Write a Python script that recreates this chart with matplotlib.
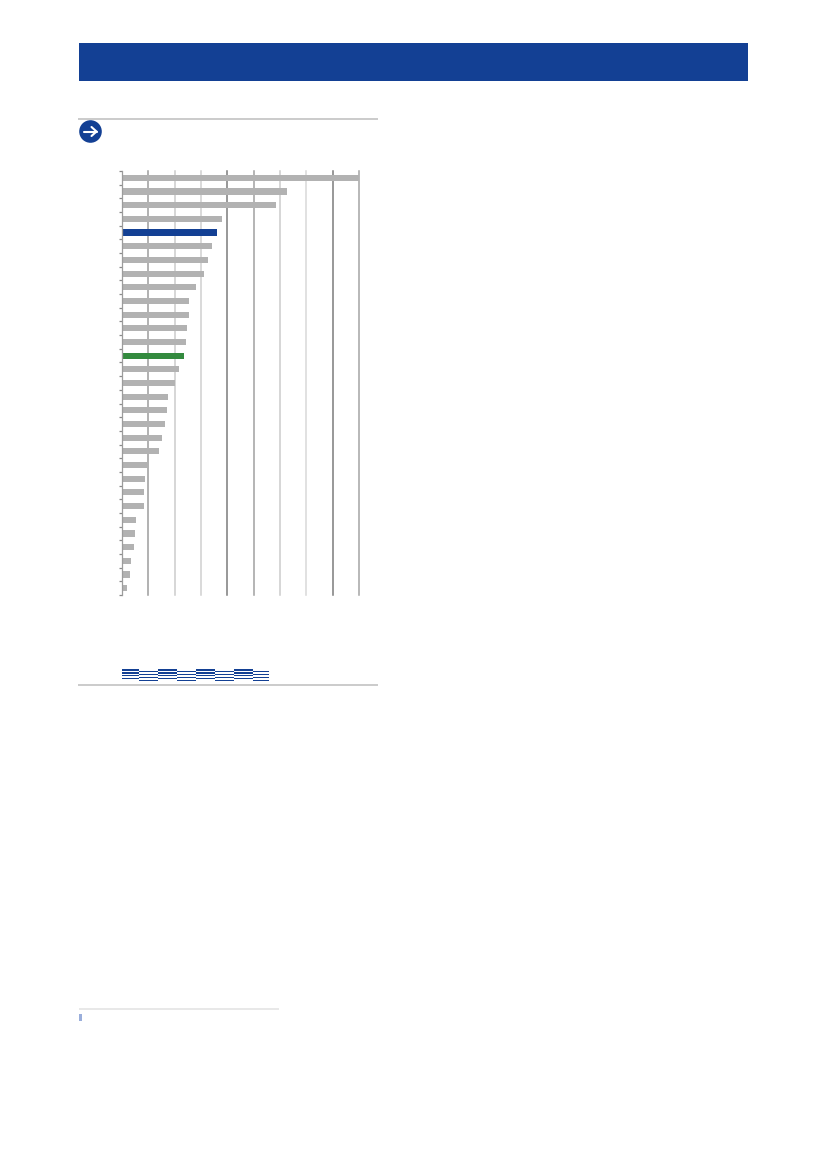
import matplotlib
matplotlib.use('Agg')
import matplotlib.pyplot as plt
from matplotlib.patches import Circle, Rectangle

# bar values, top to bottom (axis labels are blank in the source page)
values = [90, 62.7, 58.3, 37.9, 36.0, 34.1, 32.7, 31.1, 28.0, 25.3, 25.3,
          24.8, 24.4, 23.4, 21.5, 20.1, 17.6, 17, 16.4, 15.2, 14.2, 10, 8.9,
          8.4, 8.3, 5.3, 5, 4.4, 3.4, 3.2, 1.8]
highlight = {4: '#134094', 13: '#338a3e'}
grid_values = [10, 20, 30, 40, 50, 60, 70, 80, 90]
grid_colors = ['#9c9c9c', '#cbcbcb', '#d0d0d0', '#7c7c7c', '#a0a0a0',
               '#cbcbcb', '#d8d8d8', '#7c7c7c', '#a4a4a4']

W, H = 826, 1169
BLUE = '#134094'
GREY = '#b2b2b2'

fig = plt.figure(figsize=(W / 100, H / 100), dpi=100)

# page furniture, in pixel coords
page = fig.add_axes([0, 0, 1, 1])
page.set_xlim(0, W)
page.set_ylim(H, 0)
page.axis('off')
page.add_patch(Rectangle((79, 43), 669, 37.5, color=BLUE, lw=0))
page.plot([78, 378], [118.5, 118.5], color='#bdbdbd', lw=1.1, solid_capstyle='butt')
page.plot([78, 378], [684.5, 684.5], color='#bdbdbd', lw=1.1, solid_capstyle='butt')
page.plot([79, 279], [1008.5, 1008.5], color='#e2e2e2', lw=1.1, solid_capstyle='butt')
page.add_patch(Rectangle((79, 1014), 3, 7, color='#9aaedb', lw=0))
page.add_patch(Circle((90.5, 131.5), 11.3, color=BLUE, lw=0))
# arrow inside the circle
page.plot([84, 96.5], [131.5, 131.5], color='white', lw=1.5, solid_capstyle='round')
page.plot([91.5, 96.5, 91.5], [127, 131.5, 136], color='white', lw=1.5,
          solid_capstyle='round', solid_joinstyle='miter')

# striped strip above the lower rule
edges = [122, 139, 158, 177, 196, 215, 234, 253, 269]
stripes_a = [(669, 671), (672.2, 674), (675.2, 676.2), (678, 679)]
stripes_b = [(671, 672), (674, 675.3), (676.6, 678), (679.6, 681)]
for i in range(len(edges) - 1):
    for y0, y1 in (stripes_a if i % 2 == 0 else stripes_b):
        page.add_patch(Rectangle((edges[i], y0), edges[i + 1] - edges[i],
                                 y1 - y0, color=BLUE, lw=0))

# chart
x0, x1, y_top, y_bot = 122, 359, 171, 595
ax = fig.add_axes([x0 / W, 1 - y_bot / H, (x1 - x0) / W, (y_bot - y_top) / H])
ypos = list(range(len(values)))
colors = [highlight.get(i, GREY) for i in ypos]
for g, c in zip(grid_values, grid_colors):
    ax.axvline(g, color=c, lw=1.1, zorder=1, clip_on=False)
ax.barh(ypos, values, height=0.45, color=colors, zorder=2, clip_on=False)
ax.set_xlim(0, 90)
ax.set_ylim(len(values) - 0.5, -0.5)
for s in ['top', 'right', 'bottom']:
    ax.spines[s].set_visible(False)
ax.spines['left'].set_color('#9c9c9c')
ax.spines['left'].set_linewidth(0.9)
ax.set_xticks([])
ax.set_yticks([i - 0.5 for i in range(len(values) + 1)])
ax.set_yticklabels([])
ax.tick_params(axis='y', length=2.3, width=0.9, color='#8a8a8a')

fig.savefig('out.png', dpi=100)
